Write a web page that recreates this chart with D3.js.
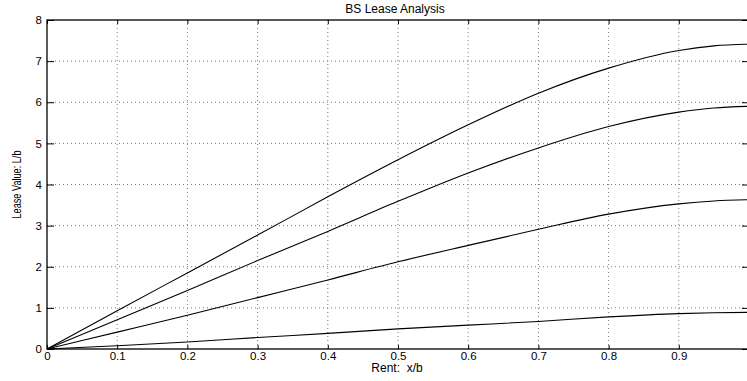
<!DOCTYPE html>
<html>
<head>
<meta charset="utf-8">
<script src="https://cdn.jsdelivr.net/npm/d3@7"></script>
<style>
  body { margin: 0; background: #fff; }
  svg text { font-family: "Liberation Sans", Arial, sans-serif; fill: #000; }
</style>
</head>
<body>
<div id="chart"></div>
<script>
const rent = [0, 0.1, 0.2, 0.3, 0.4, 0.5, 0.6, 0.7, 0.8, 0.9, 0.95, 1.0];
const lease1 = [0, 0.93, 1.85, 2.77, 3.70, 4.60, 5.45, 6.22, 6.83, 7.26, 7.37, 7.41];
const lease2 = [0, 0.71, 1.42, 2.15, 2.86, 3.59, 4.28, 4.89, 5.41, 5.76, 5.86, 5.90];
const lease3 = [0, 0.41, 0.82, 1.25, 1.68, 2.12, 2.52, 2.91, 3.28, 3.53, 3.60, 3.63];
const lease4 = [0, 0.08, 0.17, 0.28, 0.38, 0.49, 0.58, 0.67, 0.78, 0.86, 0.88, 0.89];
const xTicks = [0, 0.1, 0.2, 0.3, 0.4, 0.5, 0.6, 0.7, 0.8, 0.9];
const yTicks = [0, 1, 2, 3, 4, 5, 6, 7, 8];

const W = 747, H = 381;
const margin = { top: 20, right: -2, bottom: 32, left: 47 };
const width = W - margin.left - margin.right;
const height = H - margin.top - margin.bottom;

const svg = d3.select("#chart").append("svg")
  .attr("width", W)
  .attr("height", H);

const g = svg.append("g")
  .attr("transform", `translate(${margin.left},${margin.top})`);

const x = d3.scaleLinear().domain([0, 1]).range([0, width]);
const y = d3.scaleLinear().domain([0, 8]).range([height, 0]);

// grid
g.selectAll(".vgrid")
  .data(xTicks.slice(1))
  .join("line")
  .attr("x1", d => x(d)).attr("x2", d => x(d))
  .attr("y1", 0).attr("y2", height)
  .attr("stroke", "#777")
  .attr("stroke-width", 1)
  .attr("stroke-dasharray", "1,3");

g.selectAll(".hgrid")
  .data(yTicks.slice(1, -1))
  .join("line")
  .attr("x1", 0).attr("x2", width)
  .attr("y1", d => y(d)).attr("y2", d => y(d))
  .attr("stroke", "#777")
  .attr("stroke-width", 1)
  .attr("stroke-dasharray", "1,3");

// curves
const line = d3.line()
  .x(d => x(d[0]))
  .y(d => y(d[1]))
  .curve(d3.curveMonotoneX);

[lease1, lease2, lease3, lease4].forEach(series => {
  g.append("path")
    .datum(rent.map((r, i) => [r, series[i]]))
    .attr("fill", "none")
    .attr("stroke", "#000")
    .attr("stroke-width", 1.1)
    .attr("d", line);
});

// axes box
g.append("rect")
  .attr("x", 0).attr("y", 0)
  .attr("width", width).attr("height", height)
  .attr("fill", "none")
  .attr("stroke", "#000")
  .attr("stroke-width", 1.3);

const xAxis = d3.axisBottom(x).tickValues(xTicks).tickSize(-4).tickPadding(3)
  .tickFormat(d => d === 0 ? "0" : d3.format(".1f")(d));
const xg = g.append("g").attr("transform", `translate(0,${height})`).call(xAxis);
xg.select(".domain").remove();
xg.selectAll("text").style("font-size", "11.5px");

const xTop = d3.axisTop(x).tickValues(xTicks).tickSize(-4).tickFormat("");
const xtg = g.append("g").call(xTop);
xtg.select(".domain").remove();

const yAxis = d3.axisLeft(y).tickValues(yTicks).tickSize(-7).tickPadding(5);
const yg = g.append("g").call(yAxis);
yg.select(".domain").remove();
yg.selectAll("text").style("font-size", "11.5px");

const yRight = d3.axisRight(y).tickValues(yTicks).tickSize(-7).tickFormat("");
const yrg = g.append("g").attr("transform", `translate(${width},0)`).call(yRight);
yrg.select(".domain").remove();

svg.selectAll(".tick line").attr("stroke", "#000");

// labels
svg.append("text")
  .attr("x", margin.left + width / 2 - 3)
  .attr("y", 13)
  .attr("text-anchor", "middle")
  .style("font-size", "12px")
  .text("BS Lease Analysis");

svg.append("text")
  .attr("x", margin.left + width / 2 - 1)
  .attr("y", 372)
  .attr("text-anchor", "middle")
  .style("font-size", "12px")
  .style("white-space", "pre")
  .text("Rent:  x/b");

svg.append("text")
  .attr("transform", `translate(21,${margin.top + height / 2}) rotate(-90)`)
  .attr("text-anchor", "middle")
  .style("font-size", "12px")
  .attr("textLength", 68)
  .attr("lengthAdjust", "spacingAndGlyphs")
  .text("Lease Value: L/b");
</script>
</body>
</html>
